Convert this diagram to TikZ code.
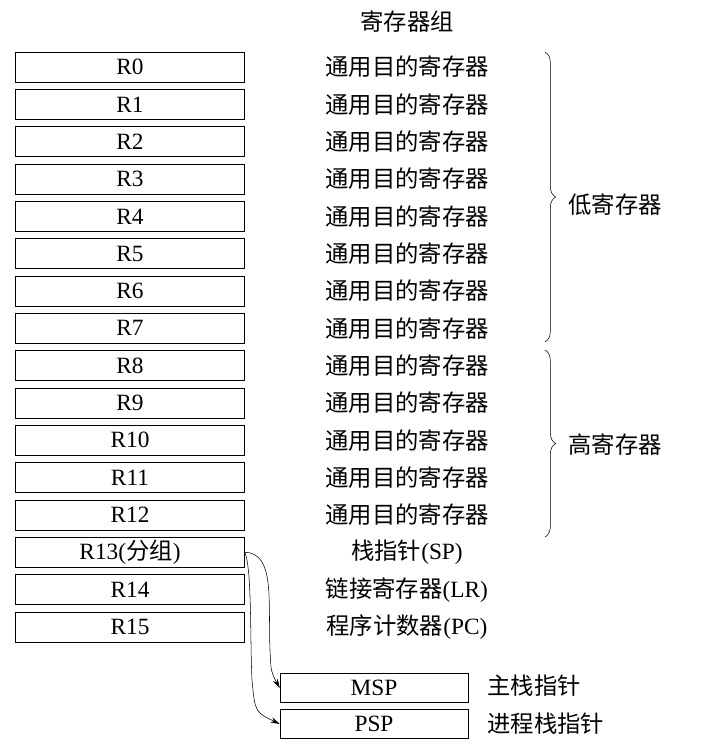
\documentclass[tikz,border=0pt]{standalone}
\usepackage{fontspec}
\setmainfont{Liberation Serif}
\newfontfamily\cjk{Noto Sans CJK SC}
\usetikzlibrary{decorations.pathreplacing,arrows.meta}
\tikzset{
  reg/.style={rectangle,draw,minimum width=172pt,minimum height=22.5pt,inner sep=0pt},
  sreg/.style={rectangle,draw,minimum width=141pt,minimum height=22pt,inner sep=0pt},
  desc/.style={inner sep=1pt},
  link/.style={-{Stealth[length=7pt,width=4pt]},thin}
}
\begin{document}
\begin{tikzpicture}[x=0.75pt,y=-0.75pt,font=\fontsize{17.5}{19}\selectfont\cjk]
\useasboundingbox (0,0) rectangle (706,744);
% Title
\node[desc] (title) at (407,22) {寄存器组};
% Registers R0--R12
\foreach \i in {0,...,12}{
  \node[reg] (r\i) at (130,{67+37.33*\i}) {\rmfamily R\i};
  \node[desc] (d\i) at (407,{67+37.33*\i}) {通用目的寄存器};
}
% Special registers
\node[reg] (r13) at (130,552.3) {\rmfamily R13(\cjk 分组\rmfamily )};
\node[reg] (r14) at (130,589.7) {\rmfamily R14};
\node[reg] (r15) at (130,627) {\rmfamily R15};
\node[desc] (d13) at (407,552.3) {栈指针\rmfamily (SP)};
\node[desc] (d14) at (407,589.7) {链接寄存器\rmfamily (LR)};
\node[desc] (d15) at (407,627) {程序计数器\rmfamily (PC)};
% Stack pointers
\node[sreg] (msp) at (374,688) {\rmfamily MSP};
\node[sreg] (psp) at (374,724) {\rmfamily PSP};
\node[desc,anchor=west] (mspd) at (486,686) {主栈指针};
\node[desc,anchor=west] (pspd) at (486,724) {进程栈指针};
% Braces
\draw[decorate,decoration={brace,amplitude=8pt}] (545,52) -- (545,342) coordinate[midway] (lowb);
\draw[decorate,decoration={brace,amplitude=8pt}] (545,350) -- (545,537) coordinate[midway] (highb);
\node[desc] (low) at (615,205) {低寄存器};
\node[desc] (high) at (615,445) {高寄存器};
% Arrows
\draw[link] (r13.east) .. controls (275,553) and (268,600) .. (270,650) .. controls (271,672) .. (msp.west);
\draw[link] (r13.east) .. controls (252,570) and (250,640) .. (252,680) .. controls (255,712) .. (psp.west);
\end{tikzpicture}
\end{document}
